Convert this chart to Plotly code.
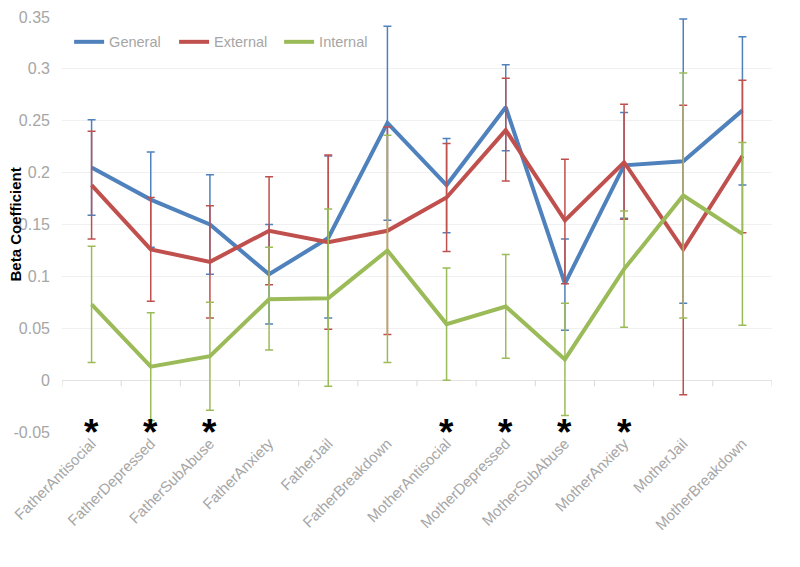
import plotly.graph_objects as go

categories = ["FatherAntisocial", "FatherDepressed", "FatherSubAbuse", "FatherAnxiety",
              "FatherJail", "FatherBreakdown", "MotherAntisocial", "MotherDepressed",
              "MotherSubAbuse", "MotherAnxiety", "MotherJail", "MotherBreakdown"]

general = [0.205, 0.174, 0.150, 0.102, 0.137, 0.248, 0.188, 0.263, 0.093, 0.207, 0.211, 0.260]
general_hi = [0.251, 0.220, 0.198, 0.150, 0.216, 0.341, 0.233, 0.304, 0.136, 0.258, 0.348, 0.331]
general_lo = [0.159, 0.128, 0.102, 0.054, 0.060, 0.154, 0.142, 0.221, 0.048, 0.156, 0.074, 0.188]

external = [0.188, 0.126, 0.114, 0.144, 0.133, 0.144, 0.176, 0.241, 0.154, 0.210, 0.126, 0.216]
external_hi = [0.240, 0.176, 0.168, 0.196, 0.217, 0.244, 0.228, 0.291, 0.213, 0.266, 0.265, 0.289]
external_lo = [0.136, 0.076, 0.060, 0.092, 0.049, 0.044, 0.124, 0.192, 0.093, 0.155, -0.014, 0.142]

internal = [0.073, 0.013, 0.023, 0.078, 0.079, 0.125, 0.054, 0.071, 0.020, 0.107, 0.178, 0.141]
internal_hi = [0.129, 0.065, 0.075, 0.128, 0.165, 0.236, 0.108, 0.121, 0.074, 0.163, 0.296, 0.229]
internal_lo = [0.017, -0.039, -0.029, 0.029, -0.006, 0.017, 0.000, 0.021, -0.034, 0.051, 0.060, 0.053]

significant = [1, 1, 1, 0, 0, 0, 1, 1, 1, 1, 0, 0]

y_ticks = [-0.05, 0, 0.05, 0.1, 0.15, 0.2, 0.25, 0.3, 0.35]
y_tick_labels = ["-0.05", "0", "0.05", "0.1", "0.15", "0.2", "0.25", "0.3", "0.35"]

series = [
    ("General", general, general_hi, general_lo, "#4F81BD"),
    ("External", external, external_hi, external_lo, "#C0504D"),
    ("Internal", internal, internal_hi, internal_lo, "#9BBB59"),
]

fig = go.Figure()
for name, vals, hi, lo, color in series:
    fig.add_trace(go.Scatter(
        x=categories, y=vals, name=name, mode="lines",
        line=dict(color=color, width=4),
        error_y=dict(type="data", symmetric=False,
                     array=[h - v for h, v in zip(hi, vals)],
                     arrayminus=[v - l for v, l in zip(vals, lo)],
                     color=color, thickness=1.5, width=4),
    ))

for cat, s in zip(categories, significant):
    if s:
        fig.add_annotation(x=cat, y=-0.0495, yshift=-1, text="<b>*</b>", showarrow=False,
                           font=dict(size=37, color="black", family="Arial"),
                           yanchor="middle", xanchor="center")

# category boundary tick marks on the zero line
for k in range(len(categories) + 1):
    fig.add_shape(type="line", xref="x", yref="y", x0=k - 0.5, x1=k - 0.5,
                  y0=0, y1=-0.006, line=dict(color="#d9d9d9", width=1))

fig.add_annotation(text="<b>Beta Coefficient</b>", xref="paper", yref="paper",
                   x=0, y=0.5, xshift=-47, textangle=-90, showarrow=False,
                   xanchor="center", yanchor="middle",
                   font=dict(size=15, color="black", family="Arial"))

fig.update_layout(
    width=792, height=559,
    margin=dict(l=54, r=28, t=9, b=135),
    paper_bgcolor="white", plot_bgcolor="white",
    font=dict(family="Arial", color="#a6a6a6"),
    legend=dict(orientation="h", x=0.010, y=0.94, xanchor="left", yanchor="middle",
                font=dict(size=14.5, color="#a6a6a6"), bgcolor="rgba(0,0,0,0)",
                entrywidth=60, entrywidthmode="pixels"),
    showlegend=True,
)
fig.update_xaxes(
    type="category", range=[-0.5, len(categories) - 0.5], automargin=False,
    showgrid=False, zeroline=False, showline=False,
    tickangle=-45, tickfont=dict(size=15, color="#a6a6a6", family="Arial"),
    ticks="", ticklabelstandoff=-1,
)
fig.update_yaxes(
    range=[-0.05, 0.35], tickvals=y_ticks, ticktext=y_tick_labels, automargin=False,
    showgrid=True, gridcolor="#f0f0f0", gridwidth=1, zeroline=True,
    zerolinecolor="#e3e3e3", zerolinewidth=1, showline=False,
    tickfont=dict(size=16, color="#a6a6a6", family="Arial"), ticks="",
    ticklabelstandoff=11,
)

fig.write_html("out.html")
